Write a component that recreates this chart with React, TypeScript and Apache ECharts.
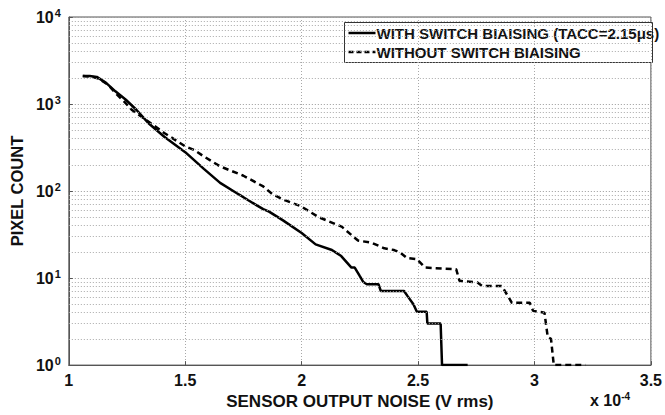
import React, { useEffect, useRef } from "react";
import * as echarts from "echarts";

const withX = [1.06, 1.09, 1.12, 1.16, 1.2, 1.245, 1.29, 1.34, 1.41, 1.5, 1.58, 1.65, 1.72, 1.75, 1.79, 1.835, 1.86, 1.92, 2.0, 2.06, 2.13, 2.17, 2.214, 2.228, 2.25, 2.265, 2.28, 2.33, 2.34, 2.44, 2.455, 2.48, 2.495, 2.537, 2.54, 2.597, 2.603, 2.713];
const withY = [2100, 2100, 2050, 1750, 1400, 1120, 860, 610, 420, 280, 180, 124, 95, 85, 73, 62, 58, 46, 33, 24.4, 21, 17.9, 13.2, 13.2, 10.5, 9.0, 8.5, 8.5, 7.1, 7.1, 6.2, 5.0, 4.1, 4.1, 3.0, 3.0, 1, 1];

const withoutX = [1.06, 1.1, 1.13, 1.17, 1.2, 1.24, 1.27, 1.33, 1.41, 1.5, 1.54, 1.58, 1.65, 1.75, 1.835, 1.877, 1.93, 1.996, 2.074, 2.172, 2.242, 2.3, 2.355, 2.397, 2.425, 2.453, 2.495, 2.53, 2.664, 2.678, 2.755, 2.776, 2.86, 2.903, 2.98, 2.994, 3.043, 3.057, 3.071, 3.083, 3.219];
const withoutY = [2100, 2050, 1950, 1650, 1340, 1050, 860, 660, 465, 326, 295, 250, 192, 150, 113, 91, 78, 67, 50, 39, 27, 25.5, 22, 21, 19.5, 17, 16.5, 13.2, 12.6, 9.3, 8.9, 8.1, 8.1, 5.2, 5.2, 4.2, 4.0, 2.1, 2.0, 1, 1];

const seriesNames = ["WITH SWITCH BIAISING (TACC=2.15μs)", "WITHOUT SWITCH BIAISING"];
const xTicks = { min: 1, max: 3.5, interval: 0.5 };
const yRange = { min: 1, max: 10000 };
const xTitle = "SENSOR OUTPUT NOISE (V rms)";
const yTitle = "PIXEL COUNT";
const xScaleNote = "-4";

const FONT = "'Liberation Sans', Arial, Helvetica, sans-serif";
const DASH = [6, 4];

export default function App() {
  const ref = useRef<HTMLDivElement>(null);
  useEffect(() => {
    if (!ref.current) return;
    const chart = echarts.init(ref.current, null, { renderer: "svg" });
    const minorLines: any[] = [];
    for (let k = 0; k < 4; k++) {
      for (let m = 2; m <= 9; m++) minorLines.push({ yAxis: m * Math.pow(10, k) });
    }
    const gridColor = "#a8a8a8";
    const textBase = { fontFamily: FONT, fontWeight: "bold", fill: "#111" };
    chart.setOption({
      animation: false,
      backgroundColor: "#ffffff",
      textStyle: { fontFamily: FONT },
      grid: { left: 62, top: 17, right: 10, bottom: 49, show: true, borderColor: "#555", borderWidth: 1, backgroundColor: "transparent" },
      xAxis: {
        type: "value",
        min: xTicks.min,
        max: xTicks.max,
        interval: xTicks.interval,
        name: xTitle,
        nameLocation: "middle",
        nameGap: 25,
        nameTextStyle: { fontFamily: FONT, fontWeight: "bold", fontSize: 17, color: "#111" },
        axisLine: { show: true, lineStyle: { color: "#555" } },
        axisTick: { show: true, inside: true, length: 4, lineStyle: { color: "#555" } },
        axisLabel: {
          fontFamily: FONT,
          fontWeight: "bold",
          fontSize: 16,
          color: "#111",
          margin: 7,
          formatter: (v: number) => String(v),
        },
        splitLine: { show: true, lineStyle: { color: gridColor, type: [1, 2], width: 1 } },
      },
      yAxis: {
        type: "log",
        logBase: 10,
        min: yRange.min,
        max: yRange.max,
        name: yTitle,
        nameLocation: "middle",
        nameGap: 39,
        nameTextStyle: { fontFamily: FONT, fontWeight: "bold", fontSize: 16.5, color: "#111" },
        axisLine: { show: true, lineStyle: { color: "#555" } },
        axisTick: { show: true, inside: true, length: 4, lineStyle: { color: "#555" } },
        axisLabel: {
          margin: 8,
          formatter: (v: number) => `{b|10}{s|${Math.round(Math.log10(v))}}`,
          rich: {
            b: { fontFamily: FONT, fontWeight: "bold", fontSize: 16, color: "#111" },
            s: { fontFamily: FONT, fontWeight: "bold", fontSize: 11, color: "#111", padding: [0, 0, 8, 1] },
          },
        },
        splitLine: { show: true, lineStyle: { color: "#999", type: [1, 2], width: 1 } },
      },
      graphic: [
        {
          type: "text",
          left: 590,
          top: 391,
          style: {
            text: `{b|x 10}{s|${xScaleNote}}`,
            rich: {
              b: { ...textBase, fontSize: 16 },
              s: { ...textBase, fontSize: 10, padding: [0, 0, 9, 0] },
            },
          },
        },
        {
          type: "group",
          left: 344,
          top: 22,
          children: [
            { type: "rect", shape: { x: 0, y: 0, width: 308, height: 40 }, style: { fill: "#fff", stroke: "#333", lineWidth: 1 } },
            { type: "line", shape: { x1: 4, y1: 10.5, x2: 31, y2: 10.5 }, style: { stroke: "#000", lineWidth: 2.5 } },
            { type: "line", shape: { x1: 4, y1: 29.5, x2: 31, y2: 29.5 }, style: { stroke: "#000", lineWidth: 2.5, lineDash: [5, 3] } },
            { type: "text", x: 32, y: 10.5, style: { ...textBase, fontSize: 15, text: seriesNames[0], verticalAlign: "middle" } },
            { type: "text", x: 32, y: 29.5, style: { ...textBase, fontSize: 15, text: seriesNames[1], verticalAlign: "middle" } },
          ],
        },
      ],
      series: [
        {
          name: "__grid",
          type: "line",
          data: [],
          silent: true,
          markLine: {
            silent: true,
            symbol: "none",
            label: { show: false },
            lineStyle: { color: gridColor, type: [1, 2], width: 1 },
            data: minorLines,
          },
        },
        {
          name: seriesNames[0],
          type: "line",
          showSymbol: false,
          symbol: "none",
          data: withX.map((x, i) => [x, withY[i]]),
          lineStyle: { color: "#000", width: 2.5, type: "solid" },
          itemStyle: { color: "#000" },
        },
        {
          name: seriesNames[1],
          type: "line",
          showSymbol: false,
          symbol: "none",
          data: withoutX.map((x, i) => [x, withoutY[i]]),
          lineStyle: { color: "#000", width: 2.5, type: DASH },
          itemStyle: { color: "#000" },
        },
      ],
    });
    return () => chart.dispose();
  }, []);
  return <div ref={ref} style={{ width: 665, height: 415, position: "absolute", left: 0, top: 0 }} />;
}
